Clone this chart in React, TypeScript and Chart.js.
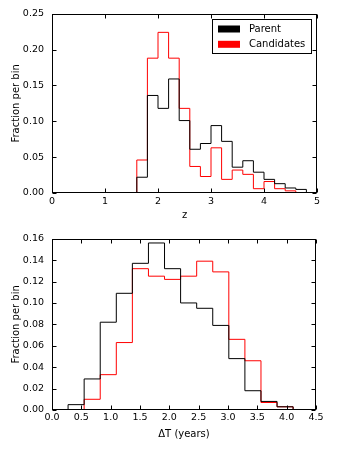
import React, { useEffect, useRef } from "react";
import { Chart, registerables } from "chart.js";

Chart.register(...registerables);

// ---------- data: top panel (redshift z) ----------
const zEdges = [1.6, 1.8, 2.0, 2.2, 2.4, 2.6, 2.8, 3.0, 3.2, 3.4, 3.6, 3.8, 4.0, 4.2, 4.4, 4.6, 4.8];
const zParent = [0.022, 0.136, 0.118, 0.159, 0.101, 0.061, 0.069, 0.094, 0.072, 0.036, 0.045, 0.029, 0.019, 0.013, 0.007, 0.005];
const zCandidates = [0.046, 0.188, 0.224, 0.188, 0.118, 0.037, 0.023, 0.063, 0.019, 0.032, 0.026, 0.006, 0.016, 0.006, 0.003];
const zTicks = [0, 1, 2, 3, 4, 5];
const zFracTicks = [0, 0.05, 0.1, 0.15, 0.2, 0.25];

// ---------- data: bottom panel (Delta T) ----------
const dtEdges = [0, 0.274, 0.548, 0.822, 1.096, 1.37, 1.644, 1.918, 2.192, 2.466, 2.74, 3.014, 3.288, 3.562, 3.836, 4.11, 4.384];
const dtParent = [0, 0.005, 0.029, 0.082, 0.109, 0.137, 0.156, 0.132, 0.1, 0.095, 0.079, 0.048, 0.018, 0.008, 0.003, 0];
const dtCandidates = [0, 0, 0.01, 0.033, 0.063, 0.132, 0.125, 0.122, 0.125, 0.139, 0.129, 0.066, 0.046, 0.007, 0.003, 0];
const dtTicks = [0, 0.5, 1, 1.5, 2, 2.5, 3, 3.5, 4, 4.5];
const dtFracTicks = [0, 0.02, 0.04, 0.06, 0.08, 0.1, 0.12, 0.14, 0.16];

const seriesNames = ["Parent", "Candidates"];
const seriesColors = ["#000000", "#ff0000"];

const FONT = "'DejaVu Sans', sans-serif";

function stepPoints(edges: number[], values: number[]) {
  const pts: { x: number; y: number }[] = [{ x: edges[0], y: 0 }];
  values.forEach((v, i) => pts.push({ x: edges[i], y: v }));
  pts.push({ x: edges[values.length], y: 0 });
  return pts;
}

function makeFramePlugin(xTicks: number[], yTicks: number[]) {
  return {
    id: "frameTicks",
    afterDatasetsDraw(chart: any) {
      const { ctx, chartArea: a, scales } = chart;
      ctx.save();
      ctx.strokeStyle = "#000";
      ctx.lineWidth = 1;
      const L = Math.round(a.left) + 0.5;
      const R = Math.round(a.right) - 0.5;
      const T = Math.round(a.top) + 0.5;
      const B = Math.round(a.bottom) - 0.5;
      ctx.strokeRect(L, T, R - L, B - T);
      const len = 4;
      ctx.beginPath();
      xTicks.forEach((v) => {
        const px = Math.round(scales.x.getPixelForValue(v)) + 0.5;
        ctx.moveTo(px, B);
        ctx.lineTo(px, B - len);
        ctx.moveTo(px, T);
        ctx.lineTo(px, T + len);
      });
      yTicks.forEach((v) => {
        const py = Math.round(scales.y.getPixelForValue(v)) + 0.5;
        ctx.moveTo(L, py);
        ctx.lineTo(L + len, py);
        ctx.moveTo(R, py);
        ctx.lineTo(R - len, py);
      });
      ctx.stroke();
      ctx.restore();
    },
  };
}

function makeLegendPlugin(show: boolean) {
  return {
    id: "histLegend",
    afterDraw(chart: any) {
      if (!show) return;
      const { ctx, chartArea: a } = chart;
      const w = 100;
      const h = 35;
      const x0 = Math.round(a.right) - 5 - w;
      const y0 = Math.round(a.top) + 5;
      ctx.save();
      ctx.fillStyle = "#fff";
      ctx.fillRect(x0, y0, w, h);
      ctx.strokeStyle = "#000";
      ctx.lineWidth = 1;
      ctx.strokeRect(x0 + 0.5, y0 + 0.5, w - 1, h - 1);
      ctx.font = `10px ${FONT}`;
      ctx.textBaseline = "middle";
      ctx.textAlign = "left";
      seriesNames.forEach((name, i) => {
        const cy = y0 + 10 + i * 15.3;
        ctx.fillStyle = seriesColors[i];
        ctx.fillRect(x0 + 6, cy - 3.5, 22, 7);
        ctx.fillStyle = "#000";
        ctx.fillText(name, x0 + 37, cy);
      });
      ctx.restore();
    },
  };
}

type HistProps = {
  edges: number[];
  parent: number[];
  cand: number[];
  xTicks: number[];
  yTicks: number[];
  xDec: number;
  yDec: number;
  xTitle: string;
  padTop: number;
  padRight: number;
  xHeight: number;
  xTickPad: number;
  xTitlePad: number;
  legend: boolean;
};

function Hist(p: HistProps) {
  const ref = useRef<HTMLCanvasElement | null>(null);
  useEffect(() => {
    if (!ref.current) return;
    const xMin = p.xTicks[0];
    const xMax = p.xTicks[p.xTicks.length - 1];
    const yMin = p.yTicks[0];
    const yMax = p.yTicks[p.yTicks.length - 1];
    const chart = new Chart(ref.current, {
      type: "line",
      data: {
        datasets: [
          {
            label: seriesNames[0],
            data: stepPoints(p.edges, p.parent),
            borderColor: seriesColors[0],
            borderWidth: 1,
            pointRadius: 0,
            stepped: true,
            fill: false,
          },
          {
            label: seriesNames[1],
            data: stepPoints(p.edges, p.cand),
            borderColor: seriesColors[1],
            borderWidth: 1,
            pointRadius: 0,
            stepped: true,
            fill: false,
          },
        ],
      },
      options: {
        animation: false,
        responsive: false,
        devicePixelRatio: 1,
        layout: { padding: { top: p.padTop, right: p.padRight, left: 0, bottom: 0 } },
        plugins: { legend: { display: false }, tooltip: { enabled: false } },
        scales: {
          x: {
            type: "linear",
            min: xMin,
            max: xMax,
            afterBuildTicks: (s: any) => {
              s.ticks = p.xTicks.map((v) => ({ value: v }));
            },
            afterFit: (s: any) => {
              s.height = p.xHeight;
            },
            grid: { display: false, drawTicks: false },
            border: { display: false },
            ticks: {
              autoSkip: false,
              maxRotation: 0,
              color: "#000",
              padding: p.xTickPad,
              font: { family: FONT, size: 9.5 },
              callback: (v: any) => Number(v).toFixed(p.xDec),
            },
            title: {
              display: true,
              text: p.xTitle,
              color: "#000",
              font: { family: FONT, size: 10 },
              padding: { top: 0, bottom: p.xTitlePad },
            },
          },
          y: {
            type: "linear",
            min: yMin,
            max: yMax,
            afterBuildTicks: (s: any) => {
              s.ticks = p.yTicks.map((v) => ({ value: v }));
            },
            afterFit: (s: any) => {
              s.width = 52;
            },
            grid: { display: false, drawTicks: false },
            border: { display: false },
            ticks: {
              autoSkip: false,
              color: "#000",
              padding: 8,
              font: { family: FONT, size: 9.5 },
              callback: (v: any) => Number(v).toFixed(p.yDec),
            },
            title: {
              display: true,
              text: "Fraction per bin",
              color: "#000",
              font: { family: FONT, size: 10 },
              padding: { top: 10, bottom: 0 },
            },
          },
        },
      },
      plugins: [makeFramePlugin(p.xTicks, p.yTicks), makeLegendPlugin(p.legend)],
    } as any);
    return () => chart.destroy();
  }, []);
  return <canvas ref={ref} width={340} height={225} style={{ display: "block", width: 340, height: 225 }} />;
}

export default function App() {
  return (
    <div style={{ position: "absolute", left: 0, top: 0, width: 340, height: 450, background: "#fff" }}>
      <Hist
        edges={zEdges}
        parent={zParent}
        cand={zCandidates}
        xTicks={zTicks}
        yTicks={zFracTicks}
        xDec={0}
        yDec={2}
        xTitle="z"
        padTop={13}
        padRight={23}
        xHeight={32}
        xTickPad={2.5}
        xTitlePad={4}
        legend={true}
      />
      <Hist
        edges={dtEdges}
        parent={dtParent}
        cand={dtCandidates}
        xTicks={dtTicks}
        yTicks={dtFracTicks}
        xDec={1}
        yDec={2}
        xTitle="ΔT (years)"
        padTop={5}
        padRight={24}
        xHeight={40}
        xTickPad={1.5}
        xTitlePad={10}
        legend={false}
      />
    </div>
  );
}
